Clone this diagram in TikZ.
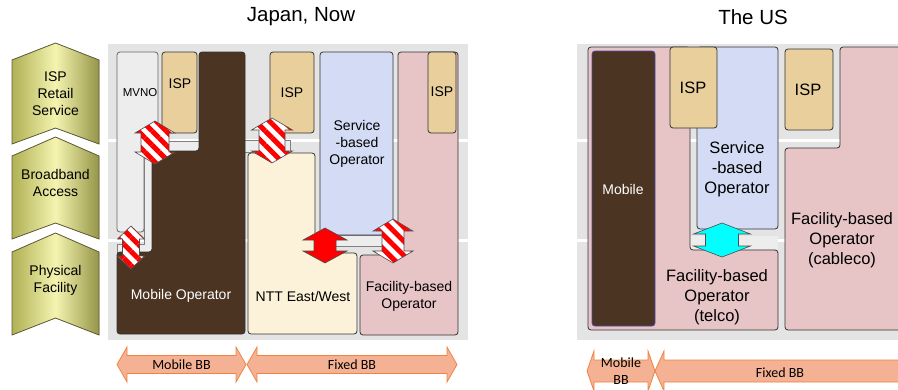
\documentclass[tikz,border=0pt]{standalone}
\usepackage{fontspec}
\setmainfont{Liberation Sans}
\newfontfamily\bbfont{Carlito}
\usepackage{tikz}
\usetikzlibrary{patterns.meta}
\definecolor{chevmid}{HTML}{F4F4B0}
\definecolor{chevside}{HTML}{B0B055}
\definecolor{chevline}{HTML}{5E5E3A}
\definecolor{bandgray}{HTML}{E4E4E4}
\definecolor{ispcol}{HTML}{E8CF9C}
\definecolor{mvnocol}{HTML}{EDEDED}
\definecolor{mobbrown}{HTML}{4B3422}
\definecolor{nttcol}{HTML}{FCF2DA}
\definecolor{svccol}{HTML}{D3DCF4}
\definecolor{faccol}{HTML}{E7C4C5}
\definecolor{bbfill}{HTML}{F5B193}
\definecolor{bbline}{HTML}{EE8442}
\definecolor{aqua}{HTML}{00FFFF}
\definecolor{pureRed}{HTML}{FF0000}
\tikzset{
  title/.style={font=\fontsize{20.5}{24}\selectfont},
  ltext/.style={align=center, font=\fontsize{14}{17}\selectfont},
  jtext/.style={align=center, font=\fontsize{14}{17}\selectfont},
  utext/.style={align=center, font=\fontsize{16.5}{20}\selectfont},
  chev/.style={left color=chevside, right color=chevside!85!black, middle color=chevmid, draw=chevline, line width=0.8pt},
  band/.style={fill=bandgray},
  bar/.style={fill=mvnocol, draw=gray, line width=0.6pt},
  layer/.style={draw=black!80, line width=0.8pt, rounded corners=3pt},
  isp/.style={fill=ispcol},
  mvno/.style={fill=mvnocol, draw=gray!80!black},
  mobile/.style={fill=mobbrown},
  ntt/.style={fill=nttcol},
  svc/.style={fill=svccol},
  fac/.style={fill=faccol},
  stripe/.style={preaction={fill=white}, pattern={Lines[angle=-45,distance=10pt,line width=5pt]}, pattern color=pureRed, draw=black!70, line width=0.6pt},
  solidred/.style={fill=pureRed, draw=black!70, line width=0.6pt},
  cyanarr/.style={fill=aqua, draw=black!70, line width=0.6pt},
  bbarrow/.style={fill=bbfill, draw=bbline, line width=0.8pt},
  bbtext/.style={align=center, font=\bbfont\fontsize{14}{17}\selectfont}
}
% chevron: tip, shoulder, bottom, notch
\newcommand{\chevshape}[4]{%
  \filldraw[chev] (12,#2) -- (55.5,#1) -- (99,#2) -- (99,#3) -- (55.5,#4) -- (12,#3) -- cycle;}
% vertical double arrow: centre x, top, bottom, head half width, shaft half width, head length
\newcommand{\vdarrow}[7][]{%
  \filldraw[#1] (#2,#3) -- (#2+#5,#3+#7) -- (#2+#6,#3+#7) -- (#2+#6,#4-#7) -- (#2+#5,#4-#7) -- (#2,#4)
    -- (#2-#5,#4-#7) -- (#2-#6,#4-#7) -- (#2-#6,#3+#7) -- (#2-#5,#3+#7) -- cycle;}
% horizontal double arrow: left, right, centre y, head half height, shaft half height, head length
\newcommand{\hdarrow}[7][]{%
  \filldraw[#1] (#2,#4) -- (#2+#7,#4-#5) -- (#2+#7,#4-#6) -- (#3-#7,#4-#6) -- (#3-#7,#4-#5) -- (#3,#4)
    -- (#3-#7,#4+#5) -- (#3-#7,#4+#6) -- (#2+#7,#4+#6) -- (#2+#7,#4+#5) -- cycle;}

\begin{document}
\begin{tikzpicture}[x=1pt,y=-1pt]
\useasboundingbox (0,0) rectangle (898,389);
\clip (0,0) rectangle (898,389);

\node[title] (jtitle) at (301,17) {Japan, Now};
\node[title] (ustitle) at (753,17) {The US};

\chevshape{43}{60}{144}{128}
\chevshape{137}{156}{239}{223}
\chevshape{233}{252}{335}{318}
\node[ltext] (isprs) at (55.5,94) {ISP\\Retail\\Service};
\node[ltext] (bbacc) at (55.5,183) {Broadband\\Access};
\node[ltext] (physf) at (55.5,280) {Physical\\Facility};

% Japan, Now
\fill[band] (108,44) rectangle (468,139);
\fill[band] (108,142) rectangle (468,239);
\fill[band] (108,242) rectangle (468,340);
\filldraw[bar] (156,141) rectangle (200,151);
\filldraw[bar] (144,138) -- (152,138) -- (152,253) -- (117,253) -- (117,244) -- (144,244) -- cycle;
\filldraw[bar] (244,140) rectangle (290,152);
\filldraw[bar] (330,235) rectangle (400,246);

\filldraw[layer,mvno] (117,52) -- (158,52) -- (158,140) -- (144,140) -- (144,232) -- (117,232) -- cycle;
\filldraw[layer,isp] (162,52) rectangle (197,133);
\filldraw[layer,mobile] (199,52) -- (245,52) -- (245,334) -- (117,334) -- (117,252) -- (152,252) -- (152,151) -- (199,151) -- cycle;
\filldraw[layer,isp] (270,52) rectangle (314,133);
\filldraw[layer,svc] (320,52) rectangle (393,235);
\filldraw[layer,ntt] (248,153) -- (315,153) -- (315,253) -- (357,253) -- (357,334) -- (248,334) -- cycle;
\filldraw[layer,fac] (398,52) -- (458,52) -- (458,335) -- (360,335) -- (360,255) -- (398,255) -- cycle;
\filldraw[layer,isp] (428,52) rectangle (456,133);

\node[jtext, font=\fontsize{11.5}{13}\selectfont, inner sep=0pt] (mvno) at (140,93) {MVNO};
\node[jtext] (isp1) at (180,84) {ISP};
\node[jtext, text=white] (mobop) at (181,296) {Mobile Operator};
\node[jtext] (isp2) at (292,93) {ISP};
\node[jtext] (svcj) at (357,144) {Service\\-based\\Operator};
\node[jtext] (ntt) at (303,296) {NTT East/West};
\node[jtext] (facj) at (409,296) {Facility-based\\Operator};
\node[jtext] (isp3) at (442,92) {ISP};

\vdarrow[stripe]{155}{121}{164}{20}{14}{12}
\vdarrow[stripe]{131}{226}{269}{13.5}{8.5}{13}
\vdarrow[stripe]{272}{118}{163}{20.5}{13}{12}
\vdarrow[solidred]{325}{228}{263}{22}{11}{12}
\vdarrow[stripe]{393}{219}{263}{20}{11}{12}

% The US
\fill[band] (577,44) rectangle (905,139);
\fill[band] (577,142) rectangle (905,239);
\fill[band] (577,242) rectangle (905,340);
\fill[mvnocol] (690,236) rectangle (778,249);

\filldraw[layer,fac] (588,47) -- (690,47) -- (690,250) -- (778,250) -- (778,330) -- (588,330) -- cycle;
\filldraw[layer,fac] (785,148) -- (840,148) -- (840,47) -- (910,47) -- (910,330) -- (785,330) -- cycle;
\filldraw[layer,svc] (697,47) rectangle (778,229);
\filldraw[layer,isp] (670,47) rectangle (717,128);
\filldraw[layer,isp] (785,49) rectangle (833,130);
\filldraw[layer,mobile, draw=blue!40!gray] (592,51) rectangle (655,326);

\node[jtext, text=white] (mobus) at (623,189) {Mobile};
\node[utext] (isp4) at (693,88) {ISP};
\node[utext] (isp5) at (808,90) {ISP};
\node[utext] (svcus) at (737,169) {Service\\-based\\Operator};
\node[utext] (telco) at (717,297) {Facility-based\\Operator\\(telco)};
\node[utext] (cable) at (842,240) {Facility-based\\Operator\\(cableco)};

\vdarrow[cyanarr]{722}{223}{257}{28.5}{16.5}{11}

% broadband arrows
\hdarrow[bbarrow]{117}{246}{364.5}{17.5}{9}{10}
\hdarrow[bbarrow]{247}{457}{364.5}{17.5}{9}{10}
\node[bbtext] (mbbj) at (181.5,364.5) {Mobile BB};
\node[bbtext] (fbbj) at (352,364.5) {Fixed BB};
\hdarrow[bbarrow]{587}{655}{371}{20}{11}{7}
\hdarrow[bbarrow]{655}{915}{371}{20}{11}{9}
\node[bbtext] (mbbu) at (621,371) {Mobile\\BB};
\node[bbtext] (fbbu) at (780,373) {Fixed BB};
\end{tikzpicture}
\end{document}
